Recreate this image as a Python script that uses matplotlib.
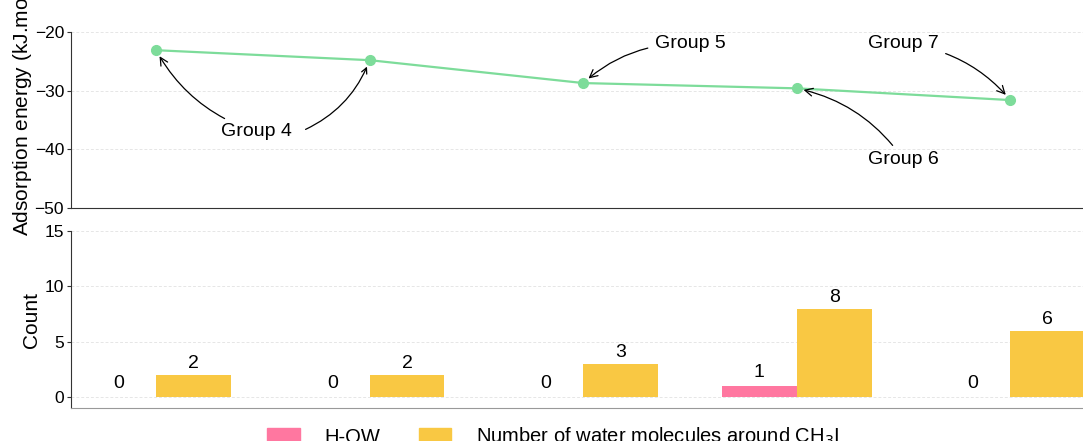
import matplotlib
matplotlib.use("Agg")
import matplotlib.pyplot as plt
import numpy as np
from matplotlib.patches import Patch

plt.rcParams['font.family'] = ['Liberation Sans', 'DejaVu Sans']

groups = ["G1", "G2", "G3", "G4", "G5"]
energy = [-23.1, -24.8, -28.7, -29.6, -31.6]
h_ow = [0, 0, 0, 1, 0]
n_water = [2, 2, 3, 8, 6]

green = "#7ddc9a"
pink = "#ff77a0"
yellow = "#f9c843"

fig = plt.figure(figsize=(10.83, 4.41), dpi=100)
ax1 = fig.add_axes([0.0656, 0.5283, 0.9344, 0.3991])
ax2 = fig.add_axes([0.0656, 0.0748, 0.9344, 0.4014])

x = np.arange(len(groups))
xl = (-0.398, 4.34)

# top panel
ax1.plot(x, energy, color=green, lw=1.6, marker='o', ms=7, zorder=3)
ax1.set_xlim(*xl)
ax1.set_ylim(-50, -20)
ax1.set_yticks([-50, -40, -30, -20])
ax1.set_yticklabels(["\u221250", "\u221240", "\u221230", "\u221220"])
ax1.set_xticks([])
ax1.grid(axis='y', color='#e6e6e6', ls=(0, (3, 2)), lw=0.7)
for s in ['top', 'right']:
    ax1.spines[s].set_visible(False)
ax1.spines['left'].set_color('#333333')
ax1.spines['bottom'].set_color('#333333')
ax1.tick_params(axis='y', labelsize=12.5, length=3, color='#333333', pad=2)

fig.text(21 / 1083, 1 - 236 / 441, "Adsorption energy (kJ.mol$^{-1}$)", rotation=90,
         fontsize=15, ha='center', va='bottom')

akw = dict(arrowstyle='->', color='black', lw=0.9, shrinkB=5)
ax1.annotate("Group 4", xy=(x[0], energy[0]), xytext=(0.47, -37.0),
             fontsize=14, ha='center', va='center',
             arrowprops=dict(connectionstyle='arc3,rad=-0.2', shrinkA=3, **akw))
ax1.annotate("", xy=(x[1], energy[1]), xytext=(0.70, -36.6),
             arrowprops=dict(connectionstyle='arc3,rad=0.2', shrinkA=0, **akw))
ax1.annotate("Group 5", xy=(x[2], energy[2]), xytext=(2.50, -22.0),
             fontsize=14, ha='center', va='center',
             arrowprops=dict(connectionstyle='arc3,rad=0.2', shrinkA=3, **akw))
ax1.annotate("Group 7", xy=(x[4], energy[4]), xytext=(3.50, -22.0),
             fontsize=14, ha='center', va='center',
             arrowprops=dict(connectionstyle='arc3,rad=-0.2', shrinkA=3, **akw))
ax1.annotate("Group 6", xy=(x[3], energy[3]), xytext=(3.50, -41.8),
             fontsize=14, ha='center', va='center',
             arrowprops=dict(connectionstyle='arc3,rad=0.2', shrinkA=3, **akw))

# bottom panel
w = 0.35
b1 = ax2.bar(x - w / 2, h_ow, width=w, color=pink, zorder=3)
b2 = ax2.bar(x + w / 2, n_water, width=w, color=yellow, zorder=3)
ax2.bar_label(b1, fontsize=14, padding=4)
ax2.bar_label(b2, fontsize=14, padding=2)
ax2.set_xlim(*xl)
ax2.set_ylim(-0.95, 15)
ax2.set_yticks([0, 5, 10, 15])
ax2.set_xticks([])
ax2.grid(axis='y', color='#e6e6e6', ls=(0, (3, 2)), lw=0.7)
for s in ['top', 'right']:
    ax2.spines[s].set_visible(False)
ax2.spines['left'].set_color('#333333')
ax2.spines['bottom'].set_color('#999999')
ax2.tick_params(axis='y', labelsize=12.5, length=3, color='#333333', pad=2)
ax2.set_ylabel("Count", fontsize=15)
ax2.yaxis.set_label_coords(-0.030, 0.5)

handles = [Patch(color=pink, label="H-OW"),
           Patch(color=yellow, label="Number of water molecules around CH$_3$I")]
fig.legend(handles=handles, loc='upper center', bbox_to_anchor=(0.511, 0.075),
           ncol=2, frameon=False, fontsize=14.5, handlelength=1.6, handleheight=0.9,
           columnspacing=1.9, handletextpad=1.25)

fig.savefig("out.png", dpi=100)
